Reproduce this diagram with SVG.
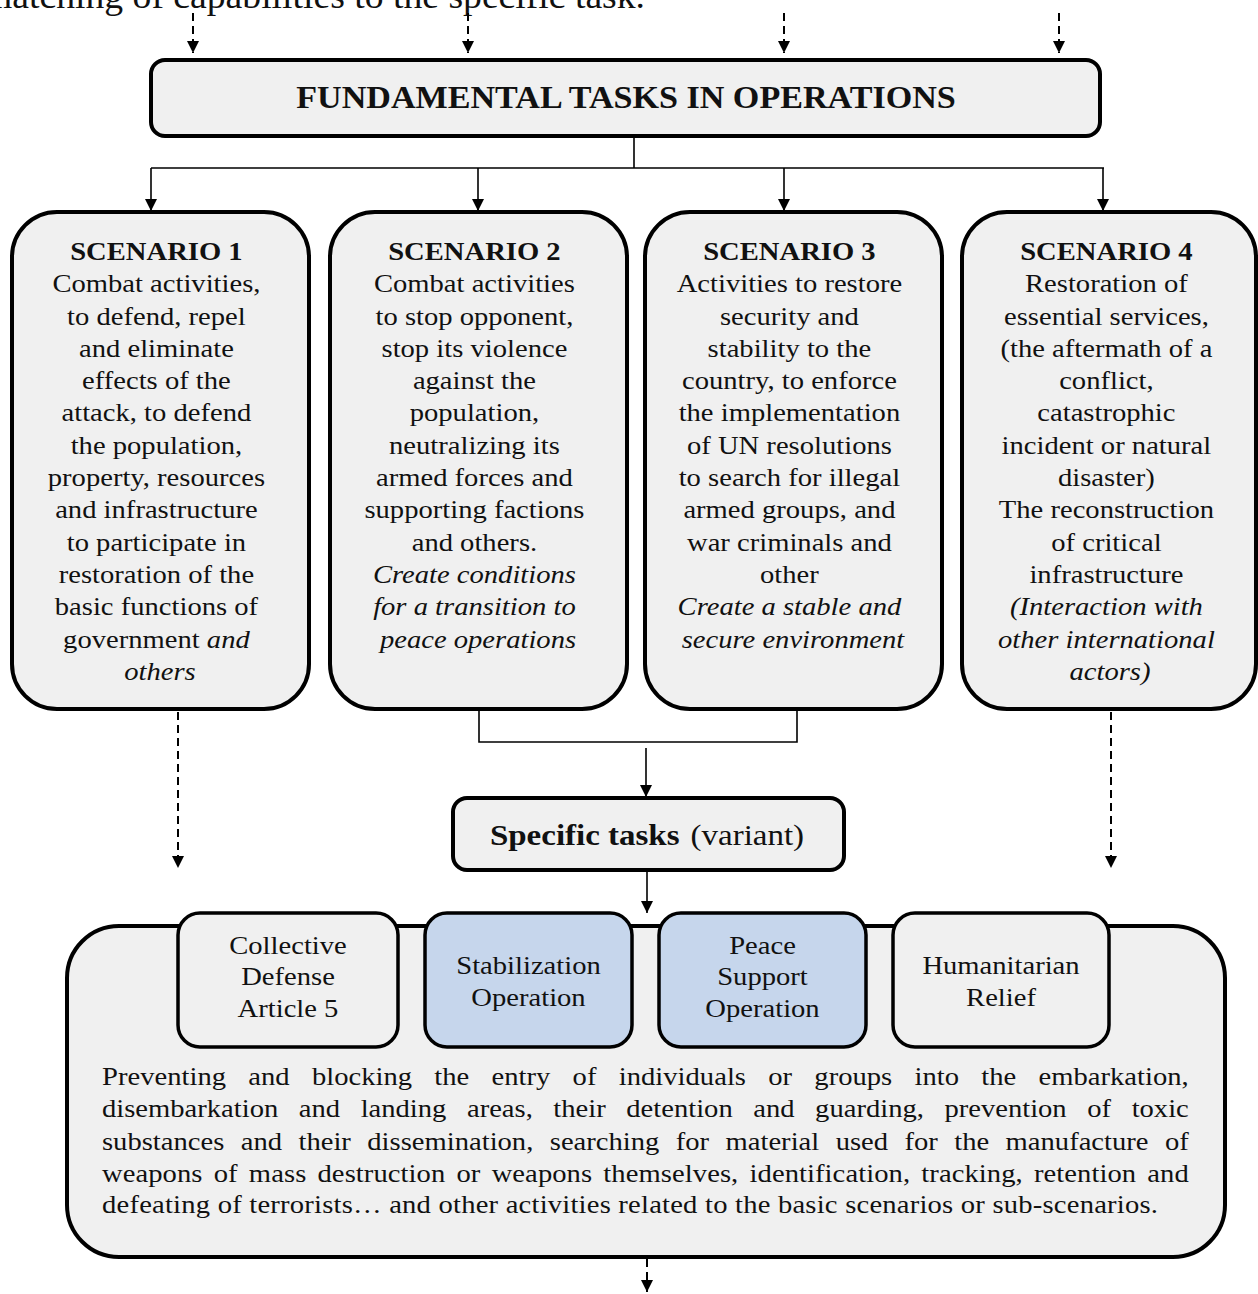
<svg xmlns="http://www.w3.org/2000/svg" width="1258" height="1294" viewBox="0 0 1258 1294">
<defs>
<marker id="ah" viewBox="0 0 12 12" refX="12" refY="6" markerWidth="12" markerHeight="12" markerUnits="userSpaceOnUse" orient="auto"><path d="M0,0 L12,6 L0,12 z" fill="#000"/></marker>
<style>
.box{fill:#f0f0f0;stroke:#000;stroke-width:4}
.inner{fill:#f0f0f0;stroke:#000;stroke-width:3.5}
.blue{fill:#c6d6ec}
.ln{fill:none;stroke:#000;stroke-width:1.6}
.dash{fill:none;stroke:#000;stroke-width:2;stroke-dasharray:8 5}
text{font-family:"Liberation Serif","Times New Roman",serif;fill:#111}
.t{font-size:26px;text-anchor:middle}
.b{font-weight:bold}
.i{font-style:italic}
</style>
</defs>
<rect width="1258" height="1294" fill="#fff"/>

<text id="top-text" x="-17" y="8" font-size="35" textLength="662" lengthAdjust="spacingAndGlyphs">matching of capabilities to the specific task.</text>

<g id="connectors">
<line class="dash" x1="193" y1="13" x2="193" y2="53" marker-end="url(#ah)"/>
<line class="dash" x1="468" y1="13" x2="468" y2="53" marker-end="url(#ah)"/>
<line class="dash" x1="784" y1="13" x2="784" y2="53" marker-end="url(#ah)"/>
<line class="dash" x1="1059" y1="13" x2="1059" y2="53" marker-end="url(#ah)"/>
<path class="ln" d="M634,137 V168 M151,168 H1104"/>
<line class="ln" x1="151" y1="168" x2="151" y2="211" marker-end="url(#ah)"/>
<line class="ln" x1="478" y1="168" x2="478" y2="211" marker-end="url(#ah)"/>
<line class="ln" x1="784" y1="168" x2="784" y2="211" marker-end="url(#ah)"/>
<line class="ln" x1="1103" y1="168" x2="1103" y2="211" marker-end="url(#ah)"/>
<line class="dash" x1="178" y1="712" x2="178" y2="868" marker-end="url(#ah)"/>
<line class="dash" x1="1111" y1="712" x2="1111" y2="868" marker-end="url(#ah)"/>
<path class="ln" d="M479,710 V742 H797 V710"/>
<line class="ln" x1="646" y1="748" x2="646" y2="797" marker-end="url(#ah)"/>
<line class="ln" x1="647" y1="870" x2="647" y2="913" marker-end="url(#ah)"/>
<line class="dash" x1="647" y1="1259" x2="647" y2="1292" marker-end="url(#ah)"/>
</g>

<g id="fundamental">
<rect class="box" x="151" y="60" width="949" height="76" rx="14"/>
<text class="b" font-size="31" text-anchor="middle" transform="translate(626 108) scale(1.1 1)" x="0" y="0">FUNDAMENTAL TASKS IN OPERATIONS</text>
</g>

<g id="scenario1">
<rect class="box" x="12" y="212" width="297" height="497" rx="45"/>
<text class="t" transform="translate(160 0) scale(1.1 1)">
<tspan class="b" x="0" y="260">SCENARIO 1</tspan>
<tspan x="0" y="292.3">Combat activities,</tspan>
<tspan x="0" y="324.6">to defend, repel</tspan>
<tspan x="0" y="356.9">and eliminate</tspan>
<tspan x="0" y="389.2">effects of the</tspan>
<tspan x="0" y="421.5">attack, to defend</tspan>
<tspan x="0" y="453.8">the population,</tspan>
<tspan x="0" y="486.1">property, resources</tspan>
<tspan x="0" y="518.4">and infrastructure</tspan>
<tspan x="0" y="550.7">to participate in</tspan>
<tspan x="0" y="583">restoration of the</tspan>
<tspan x="0" y="615.3">basic functions of</tspan>
<tspan x="0" y="647.6">government <tspan class="i">and</tspan></tspan>
<tspan class="i" x="0" y="679.9">others</tspan>
</text>
</g>

<g id="scenario2">
<rect class="box" x="330" y="212" width="297" height="497" rx="45"/>
<text class="t" transform="translate(478 0) scale(1.1 1)">
<tspan class="b" x="0" y="260">SCENARIO 2</tspan>
<tspan x="0" y="292.3">Combat activities</tspan>
<tspan x="0" y="324.6">to stop opponent,</tspan>
<tspan x="0" y="356.9">stop its violence</tspan>
<tspan x="0" y="389.2">against the</tspan>
<tspan x="0" y="421.5">population,</tspan>
<tspan x="0" y="453.8">neutralizing its</tspan>
<tspan x="0" y="486.1">armed forces and</tspan>
<tspan x="0" y="518.4">supporting factions</tspan>
<tspan x="0" y="550.7">and others.</tspan>
<tspan class="i" x="0" y="583">Create conditions</tspan>
<tspan class="i" x="0" y="615.3">for a transition to</tspan>
<tspan class="i" x="0" y="647.6">peace operations</tspan>
</text>
</g>

<g id="scenario3">
<rect class="box" x="645" y="212" width="297" height="497" rx="45"/>
<text class="t" transform="translate(793 0) scale(1.1 1)">
<tspan class="b" x="0" y="260">SCENARIO 3</tspan>
<tspan x="0" y="292.3">Activities  to restore</tspan>
<tspan x="0" y="324.6">security and</tspan>
<tspan x="0" y="356.9">stability to the</tspan>
<tspan x="0" y="389.2">country, to enforce</tspan>
<tspan x="0" y="421.5">the implementation</tspan>
<tspan x="0" y="453.8">of UN resolutions</tspan>
<tspan x="0" y="486.1">to search for illegal</tspan>
<tspan x="0" y="518.4">armed groups, and</tspan>
<tspan x="0" y="550.7">war criminals and</tspan>
<tspan x="0" y="583">other</tspan>
<tspan class="i" x="0" y="615.3">Create a stable and</tspan>
<tspan class="i" x="0" y="647.6">secure environment</tspan>
</text>
</g>

<g id="scenario4">
<rect class="box" x="962" y="212" width="294" height="497" rx="45"/>
<text class="t" transform="translate(1110 0) scale(1.1 1)">
<tspan class="b" x="0" y="260">SCENARIO 4</tspan>
<tspan x="0" y="292.3">Restoration of</tspan>
<tspan x="0" y="324.6">essential services,</tspan>
<tspan x="0" y="356.9">(the aftermath of a</tspan>
<tspan x="0" y="389.2">conflict,</tspan>
<tspan x="0" y="421.5">catastrophic</tspan>
<tspan x="0" y="453.8">incident or natural</tspan>
<tspan x="0" y="486.1">disaster)</tspan>
<tspan x="0" y="518.4">The reconstruction</tspan>
<tspan x="0" y="550.7">of critical</tspan>
<tspan x="0" y="583">infrastructure</tspan>
<tspan class="i" x="0" y="615.3">(Interaction with</tspan>
<tspan class="i" x="0" y="647.6">other international</tspan>
<tspan class="i" x="0" y="679.9">actors)</tspan>
</text>
</g>

<g id="specific-tasks">
<rect class="box" x="453" y="798" width="391" height="72" rx="14"/>
<text font-size="30" text-anchor="middle" transform="translate(647 845) scale(1.1 1)" x="0" y="0"><tspan class="b">Specific tasks</tspan><tspan dx="10">(variant)</tspan></text>
</g>

<g id="operations">
<rect class="box" x="67" y="926" width="1158" height="331" rx="52"/>
<text font-size="26" transform="translate(102 0) scale(1.1 1)">
<tspan x="0" y="1085" word-spacing="13.7" textLength="988" lengthAdjust="spacing">Preventing and blocking the entry of individuals or groups into the embarkation,</tspan>
<tspan x="0" y="1117" word-spacing="12.2" textLength="988" lengthAdjust="spacing">disembarkation and landing areas, their detention and guarding, prevention of toxic</tspan>
<tspan x="0" y="1150" word-spacing="8.4" textLength="988" lengthAdjust="spacing">substances and their dissemination, searching for material used for the manufacture of</tspan>
<tspan x="0" y="1182" word-spacing="3.6" textLength="988" lengthAdjust="spacing">weapons of mass destruction or weapons themselves, identification, tracking, retention and</tspan>
<tspan x="0" y="1213" textLength="960" lengthAdjust="spacing">defeating of terrorists… and other activities  related to the basic scenarios or sub-scenarios.</tspan>
</text>
</g>

<g id="collective-defense">
<rect class="inner" x="178" y="913" width="220" height="134" rx="22"/>
<text class="t" transform="translate(288 0) scale(1.1 1)"><tspan x="0" y="954">Collective</tspan><tspan x="0" y="985">Defense</tspan><tspan x="0" y="1017">Article 5</tspan></text>
</g>
<g id="stabilization">
<rect class="inner blue" x="425" y="913" width="207" height="134" rx="22"/>
<text class="t" transform="translate(528.5 0) scale(1.1 1)"><tspan x="0" y="974">Stabilization</tspan><tspan x="0" y="1006">Operation</tspan></text>
</g>
<g id="peace-support">
<rect class="inner blue" x="659" y="913" width="207" height="134" rx="22"/>
<text class="t" transform="translate(762.5 0) scale(1.1 1)"><tspan x="0" y="954">Peace</tspan><tspan x="0" y="985">Support</tspan><tspan x="0" y="1017">Operation</tspan></text>
</g>
<g id="humanitarian">
<rect class="inner" x="893" y="913" width="216" height="134" rx="22"/>
<text class="t" transform="translate(1001 0) scale(1.1 1)"><tspan x="0" y="974">Humanitarian</tspan><tspan x="0" y="1006">Relief</tspan></text>
</g>
</svg>
